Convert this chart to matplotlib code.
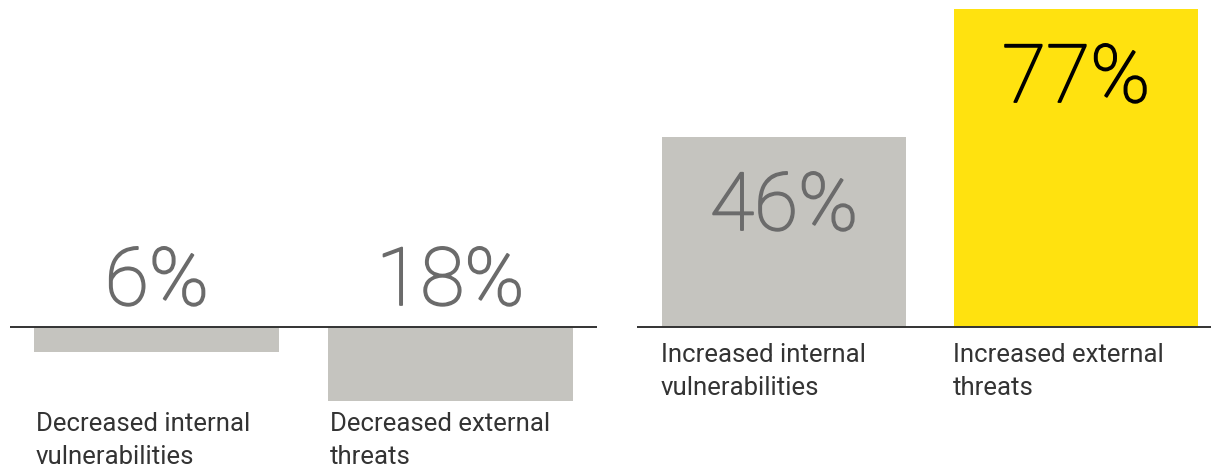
import matplotlib
matplotlib.use("Agg")
import matplotlib.pyplot as plt
import matplotlib.patheffects as pe

# Share of respondents, split into decreased / increased risk
decreased_labels = ["Decreased internal\nvulnerabilities", "Decreased external\nthreats"]
decreased_values = [6, 18]
increased_labels = ["Increased internal\nvulnerabilities", "Increased external\nthreats"]
increased_values = [46, 77]

GREY = "#c5c4bf"
YELLOW = "#ffe20f"
NUM_GREY = "#6b6b6b"
LABEL = "#333333"
NUM_FONT = "Roboto"
LABEL_FONT = "Roboto"

W, H, DPI = 1211, 469, 100
fig = plt.figure(figsize=(W / DPI, H / DPI), dpi=DPI)

# both panels use the same vertical scale so the bars are comparable
px_per_pct = 318 / 77
baseline_px = 327  # from top
ylim = (-(H - baseline_px) / px_per_pct, baseline_px / px_per_pct)


def make_axes(x0, x1):
    ax = fig.add_axes([x0 / W, 0, (x1 - x0) / W, 1])
    ax.set_ylim(*ylim)
    ax.axis("off")
    return ax


def big_number(ax, text, xy, dy, color):
    # light face with a thin outline in the same colour -> book weight
    ax.annotate(text, xy, xytext=(0, dy), textcoords="offset pixels",
                ha="center", va="baseline", fontsize=58, family=NUM_FONT,
                weight="light", color=color,
                path_effects=[pe.withStroke(linewidth=1.3, foreground=color)])


bar_w = 0.836
lab_kw = dict(ha="left", va="top", fontsize=18.5, color=LABEL, family=LABEL_FONT,
              weight="normal", linespacing=1.45)

# left panel: decreases hang below the baseline
ax_l = make_axes(10, 597)
ax_l.set_xlim(-0.5, 1.5)
xs = range(len(decreased_values))
ax_l.bar(xs, [-v for v in decreased_values], width=bar_w, color=GREY, zorder=1)
ax_l.axhline(0, color=LABEL, lw=1.4, zorder=2)
for x, v, lab in zip(xs, decreased_values, decreased_labels):
    big_number(ax_l, f"{v}%", (x, 0), 22, NUM_GREY)
    ax_l.annotate(lab, (x - bar_w / 2, 0), xytext=(2, -85), textcoords="offset pixels",
                  **lab_kw)

# right panel: increases rise above the baseline
ax_r = make_axes(637, 1211)
ax_r.set_xlim(-0.503, 1.462)
xs = range(len(increased_values))
ax_r.bar(xs, increased_values, width=bar_w, color=[GREY, YELLOW], zorder=1)
ax_r.axhline(0, color=LABEL, lw=1.4, zorder=2)
num_colors = [NUM_GREY, "#000000"]
for x, v, lab, c in zip(xs, increased_values, increased_labels, num_colors):
    big_number(ax_r, f"{v}%", (x, v), -93, c)
    ax_r.annotate(lab, (x - bar_w / 2, 0), xytext=(-1, -16), textcoords="offset pixels",
                  **lab_kw)

fig.savefig("out.png", dpi=DPI, facecolor="white")
